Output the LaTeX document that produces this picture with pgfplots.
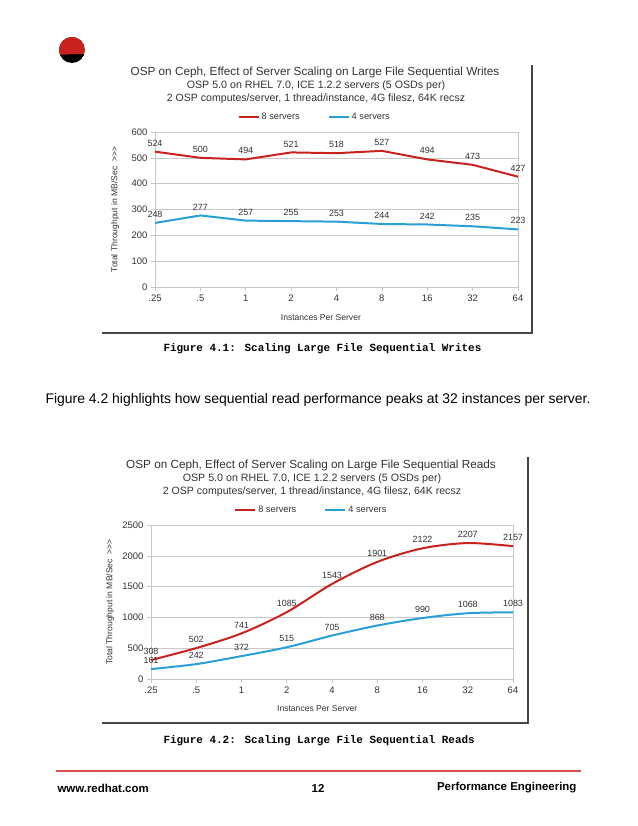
\documentclass[border=0pt]{standalone}
\usepackage{pgfplots}
\pgfplotsset{compat=1.18}
\usepackage{fontspec}
\setmainfont{Liberation Sans}
\newfontfamily\monofont{Liberation Mono}
\definecolor{sred}{RGB}{201,33,30}
\definecolor{sblue}{RGB}{42,158,214}
\definecolor{txt}{RGB}{51,51,51}
\definecolor{gridc}{RGB}{200,200,200}
\definecolor{frame}{RGB}{70,70,70}
\definecolor{footred}{RGB}{214,80,80}

\pgfplotsset{chartstyle/.style={
  scale only axis,
  xmin=0, xmax=8, ymin=0,
  xtick={0,...,8}, xticklabels={.25,.5,1,2,4,8,16,32,64},
  ymajorgrids, grid style={gridc, line width=0.6pt},
  axis line style={gridc, line width=0.6pt},
  tick style={gridc, line width=0.6pt},
  tick align=outside, major tick length=4bp,
  xtick pos=left, ytick pos=left,
  tick label style={font=\fontsize{9.5}{11}\selectfont, text=txt},
  /pgf/number format/assume math mode=true,
  /pgf/number format/1000 sep={},
  label style={font=\fontsize{8.6}{10}\selectfont, text=txt},
  xlabel={Instances Per Server},
  ylabel={Total Throughput in MB/Sec\ \ {>}{>}{>}},
  nodes near coords,
  every node near coord/.append style={font=\fontsize{9}{10}\selectfont, text=txt, anchor=south, yshift=1bp},
  legend columns=2,
  legend style={draw=none, fill=none, font=\fontsize{9.3}{11}\selectfont, text=txt,
    /tikz/every even column/.append style={column sep=26bp}},
  legend image code/.code={\draw[#1, line width=2pt] (0bp,0bp) -- (20bp,0bp);},
  clip=false,
}}

\begin{document}
\begin{tikzpicture}
\begin{scope}[x=1bp,y=1bp]
\useasboundingbox[fill=white] (0,0) rectangle (638,-826);
% logo
\begin{scope}
\clip (72,-50) circle (13);
\fill[black] (72,-50) circle (13);
\fill[sred] (56,-45) .. controls (60,-34) and (84,-33) .. (88,-45) -- (88,-55) .. controls (78,-52) and (66,-56) .. (56,-54) -- cycle;
\end{scope}
% chart 1 decorations
\draw[frame, line width=1.5bp] (102,-333) -- (532,-333) -- (532,-65);
\node[font=\fontsize{11.8}{14}\selectfont, text=txt] at (315,-72) {OSP on Ceph, Effect of Server Scaling on Large File Sequential Writes};
\node[font=\fontsize{10.7}{12}\selectfont, text=txt] at (316,-86) {OSP 5.0 on RHEL 7.0, ICE 1.2.2 servers (5 OSDs per)};
\node[font=\fontsize{10.6}{12}\selectfont, text=txt] at (316,-98.5) {2 OSP computes/server, 1 thread/instance, 4G filesz, 64K recsz};
\node[anchor=west, font=\monofont\bfseries\fontsize{11}{13}\selectfont] at (160,-349) {Figure 4.1: Scaling Large File Sequential Writes};
\node[anchor=west, font=\fontsize{14}{16}\selectfont] at (42,-400) {Figure 4.2 highlights how sequential read performance peaks at 32 instances per server.};
% chart 2 decorations
\draw[frame, line width=1.5bp] (102,-723) -- (528,-723) -- (528,-457);
\node[font=\fontsize{11.8}{14}\selectfont, text=txt] at (311,-465) {OSP on Ceph, Effect of Server Scaling on Large File Sequential Reads};
\node[font=\fontsize{10.7}{12}\selectfont, text=txt] at (312,-479) {OSP 5.0 on RHEL 7.0, ICE 1.2.2 servers (5 OSDs per)};
\node[font=\fontsize{10.6}{12}\selectfont, text=txt] at (312,-491.5) {2 OSP computes/server, 1 thread/instance, 4G filesz, 64K recsz};
\node[anchor=west, font=\monofont\bfseries\fontsize{11}{13}\selectfont] at (160,-741) {Figure 4.2: Scaling Large File Sequential Reads};
% footer
\draw[footred, line width=1.2bp] (56,-771) -- (581,-771);
\node[anchor=west, font=\bfseries\fontsize{11.5}{13}\selectfont] at (54,-788) {www.redhat.com};
\node[font=\bfseries\fontsize{11.5}{13}\selectfont] at (318,-788) {12};
\node[anchor=east, font=\bfseries\fontsize{11.5}{13}\selectfont] at (580,-788) {Performance Engineering};
\end{scope}

\begin{axis}[chartstyle,
  at={(155bp,-287bp)}, anchor=south west,
  width=363bp, height=155bp,
  ymax=600, ytick={0,100,...,600},
  legend style={at={(0.44,1.097)}, anchor=center},
  xlabel style={at={(axis description cs:0.457,-0.194)}, anchor=center},
  ylabel style={at={(axis description cs:-0.11,0.5)}, anchor=center},
]
\addplot[sred, line width=2pt] coordinates {(0,524) (1,500) (2,494) (3,521) (4,518) (5,527) (6,494) (7,473) (8,427)};
\addlegendentry{8 servers}
\addplot[sblue, line width=2pt] coordinates {(0,248) (1,277) (2,257) (3,255) (4,253) (5,244) (6,242) (7,235) (8,223)};
\addlegendentry{4 servers}
\end{axis}

\begin{axis}[chartstyle,
  at={(151bp,-679bp)}, anchor=south west,
  width=362bp, height=154bp,
  ymax=2500, ytick={0,500,...,2500},
  legend style={at={(0.443,1.097)}, anchor=center},
  xlabel style={at={(axis description cs:0.459,-0.195)}, anchor=center},
  ylabel style={at={(axis description cs:-0.113,0.5)}, anchor=center},
]
\addplot[sred, line width=2pt, smooth] coordinates {(0,308) (1,502) (2,741) (3,1085) (4,1543) (5,1901) (6,2122) (7,2207) (8,2157)};
\addlegendentry{8 servers}
\addplot[sblue, line width=2pt, smooth] coordinates {(0,161) (1,242) (2,372) (3,515) (4,705) (5,868) (6,990) (7,1068) (8,1083)};
\addlegendentry{4 servers}
\end{axis}
\end{tikzpicture}
\end{document}
